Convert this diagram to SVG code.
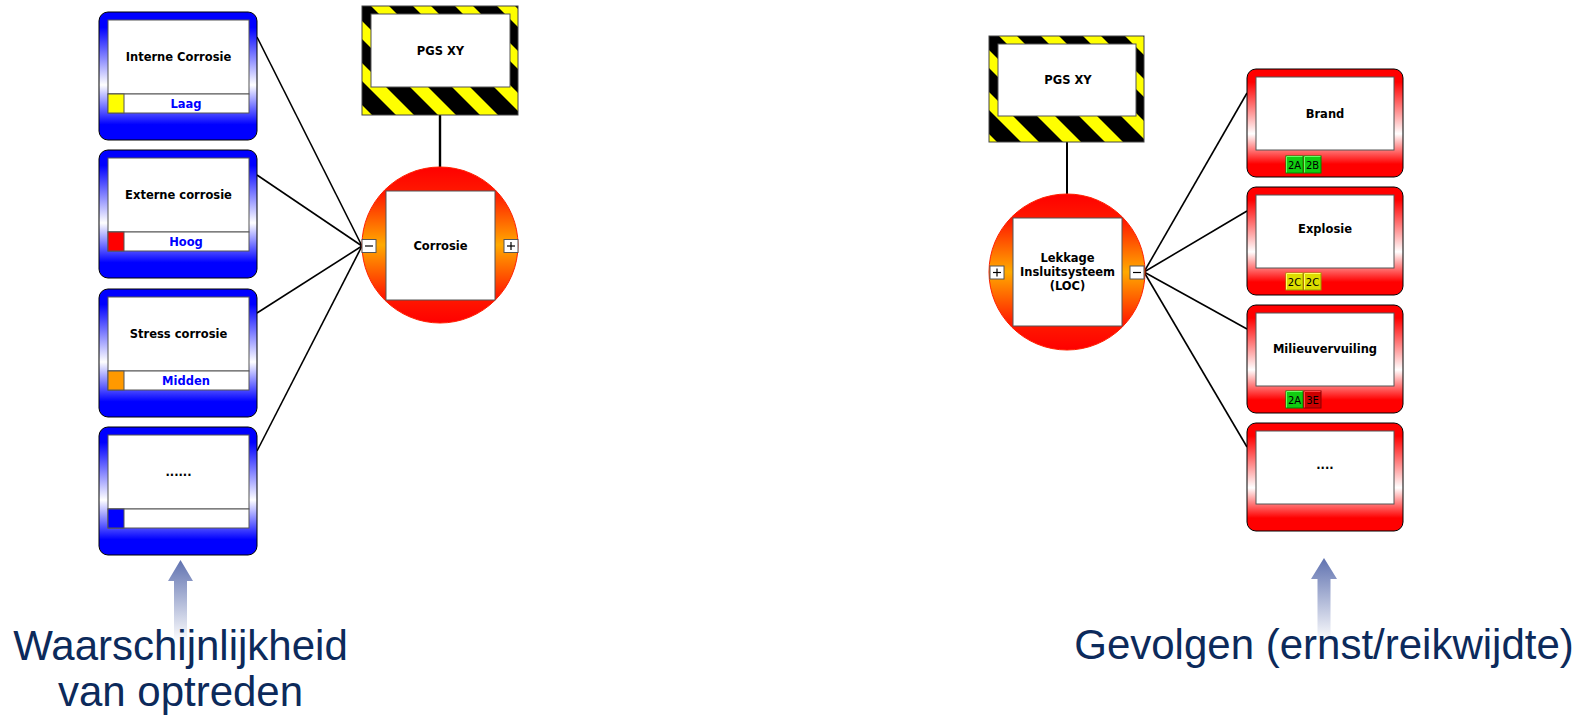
<svg xmlns="http://www.w3.org/2000/svg" width="1583" height="721" viewBox="0 0 1583 721">
  <defs>
    <style>
      .lbl { font-family: "DejaVu Sans", Verdana, sans-serif; font-weight: bold; font-size: 11.5px; fill: #000; text-anchor: middle; }
      .lvl { font-family: "DejaVu Sans", Verdana, sans-serif; font-weight: bold; font-size: 11.5px; fill: #0000ff; text-anchor: middle; }
      .badge-t { font-family: "DejaVu Sans", Verdana, sans-serif; font-size: 10px; fill: #000; text-anchor: middle; }
      .big { font-family: "Liberation Sans", Arial, sans-serif; font-size: 42px; fill: #0c2a5b; text-anchor: middle; }
      .inner { fill: #fff; stroke: #555; stroke-width: 1; }
      .edge { stroke: #000; stroke-width: 1.6; fill: none; }
      .stem { stroke: #000; stroke-width: 2.4; fill: none; }
      .btn { fill: #fff; stroke: #555; stroke-width: 1; }
      .btn-sym { stroke: #000; stroke-width: 1.2; fill: none; }
      .blue-node { fill: url(#gBlue); stroke: #000; stroke-width: 1; }
      .red-node { fill: url(#gRed); stroke: #000; stroke-width: 1; }
      .event { fill: url(#gEvent); stroke: #ff2000; stroke-width: 1; }
    </style>
    <linearGradient id="gBlue" x1="0" y1="0" x2="0" y2="1">
      <stop offset="0" stop-color="#0000ff"/>
      <stop offset="0.12" stop-color="#0000ff"/>
      <stop offset="0.57" stop-color="#ffffff"/>
      <stop offset="0.88" stop-color="#0000ff"/>
      <stop offset="1" stop-color="#0000ff"/>
    </linearGradient>
    <linearGradient id="gRed" x1="0" y1="0" x2="0" y2="1">
      <stop offset="0" stop-color="#ff0000"/>
      <stop offset="0.12" stop-color="#ff0000"/>
      <stop offset="0.6" stop-color="#ffffff"/>
      <stop offset="0.88" stop-color="#ff0000"/>
      <stop offset="1" stop-color="#ff0000"/>
    </linearGradient>
    <linearGradient id="gEvent" x1="0" y1="0" x2="0" y2="1">
      <stop offset="0" stop-color="#ff0000"/>
      <stop offset="0.17" stop-color="#ff1a00"/>
      <stop offset="0.5" stop-color="#ffaa00"/>
      <stop offset="0.83" stop-color="#ff1a00"/>
      <stop offset="1" stop-color="#ff0000"/>
    </linearGradient>
    <linearGradient id="gArrowL" gradientUnits="userSpaceOnUse" x1="0" y1="560" x2="0" y2="642">
      <stop offset="0" stop-color="#6072b0"/>
      <stop offset="1" stop-color="#ffffff"/>
    </linearGradient>
    <linearGradient id="gArrowR" gradientUnits="userSpaceOnUse" x1="0" y1="558" x2="0" y2="642">
      <stop offset="0" stop-color="#6072b0"/>
      <stop offset="1" stop-color="#ffffff"/>
    </linearGradient>
    <!-- diagonal hazard stripes, 42px horizontal period -->
    <pattern id="hazardL" patternUnits="userSpaceOnUse" x="0" y="0" width="42" height="42">
      <rect width="42" height="42" fill="#000"/>
      <polygon points="29,0 47,0 89,42 71,42" fill="#ffff00"/>
      <polygon points="-13,0 5,0 47,42 29,42" fill="#ffff00"/>
      <polygon points="-55,0 -37,0 5,42 -13,42" fill="#ffff00"/>
    </pattern>
    <pattern id="hazardR" patternUnits="userSpaceOnUse" x="0" y="0" width="42" height="42">
      <rect width="42" height="42" fill="#000"/>
      <polygon points="39,0 57,0 99,42 81,42" fill="#ffff00"/>
      <polygon points="-3,0 15,0 57,42 39,42" fill="#ffff00"/>
      <polygon points="-45,0 -27,0 15,42 -3,42" fill="#ffff00"/>
    </pattern>
  </defs>

  <rect width="1583" height="721" fill="#ffffff"/>

  <!-- connectors -->
  <g id="connectors">
    <line class="stem" x1="440" y1="115" x2="440" y2="167"/>
    <line class="edge" x1="257" y1="37" x2="362" y2="246"/>
    <line class="edge" x1="257" y1="175" x2="362" y2="246"/>
    <line class="edge" x1="257" y1="313" x2="362" y2="246"/>
    <line class="edge" x1="257" y1="451" x2="362" y2="246"/>
    <line class="stem" x1="1067" y1="142" x2="1067" y2="194" style="stroke-width:2"/>
    <line class="edge" x1="1144" y1="272" x2="1247" y2="93"/>
    <line class="edge" x1="1144" y1="272" x2="1247" y2="211"/>
    <line class="edge" x1="1144" y1="272" x2="1247" y2="329"/>
    <line class="edge" x1="1144" y1="272" x2="1247" y2="447"/>
  </g>

  <!-- causes (left) -->
  <g id="cause-interne" transform="translate(99,12)">
    <rect class="blue-node" width="158" height="128" rx="9"/>
    <rect class="inner" x="9" y="8" width="141" height="74"/>
    <rect class="inner" x="9" y="82" width="141" height="19"/>
    <rect x="9" y="82" width="16" height="19" fill="#ffff00" stroke="#555"/>
    <text class="lbl" x="79.5" y="49">Interne Corrosie</text>
    <text class="lvl" x="87" y="95.5">Laag</text>
  </g>
  <g id="cause-externe" transform="translate(99,150)">
    <rect class="blue-node" width="158" height="128" rx="9"/>
    <rect class="inner" x="9" y="8" width="141" height="74"/>
    <rect class="inner" x="9" y="82" width="141" height="19"/>
    <rect x="9" y="82" width="16" height="19" fill="#ff0000" stroke="#555"/>
    <text class="lbl" x="79.5" y="49">Externe corrosie</text>
    <text class="lvl" x="87" y="95.5">Hoog</text>
  </g>
  <g id="cause-stress" transform="translate(99,289)">
    <rect class="blue-node" width="158" height="128" rx="9"/>
    <rect class="inner" x="9" y="8" width="141" height="74"/>
    <rect class="inner" x="9" y="82" width="141" height="19"/>
    <rect x="9" y="82" width="16" height="19" fill="#ff9900" stroke="#555"/>
    <text class="lbl" x="79.5" y="49">Stress corrosie</text>
    <text class="lvl" x="87" y="95.5">Midden</text>
  </g>
  <g id="cause-more" transform="translate(99,427)">
    <rect class="blue-node" width="158" height="128" rx="9"/>
    <rect class="inner" x="9" y="8" width="141" height="74"/>
    <rect class="inner" x="9" y="82" width="141" height="19"/>
    <rect x="9" y="82" width="16" height="19" fill="#0000ff" stroke="#555"/>
    <text class="lbl" x="79.5" y="49">......</text>
  </g>

  <!-- left hazard label -->
  <g id="pgs-left">
    <rect x="362" y="6" width="156" height="109" fill="url(#hazardL)" stroke="#444" stroke-width="1"/>
    <rect class="inner" x="371" y="14" width="139" height="73"/>
    <text class="lbl" x="440.5" y="55">PGS XY</text>
  </g>

  <!-- left event -->
  <g id="event-corrosie">
    <circle class="event" cx="440" cy="245" r="78"/>
    <rect class="inner" x="386" y="191" width="109" height="109"/>
    <text class="lbl" x="440.5" y="250">Corrosie</text>
    <rect class="btn" x="362" y="239.5" width="14" height="13"/>
    <line class="btn-sym" x1="365" y1="246" x2="373" y2="246"/>
    <rect class="btn" x="504" y="239.5" width="14" height="13"/>
    <line class="btn-sym" x1="507" y1="246" x2="515" y2="246"/>
    <line class="btn-sym" x1="511" y1="242" x2="511" y2="250"/>
  </g>

  <!-- right hazard label -->
  <g id="pgs-right">
    <rect x="989" y="36" width="155" height="106" fill="url(#hazardR)" stroke="#444" stroke-width="1"/>
    <rect class="inner" x="998" y="44" width="138" height="72"/>
    <text class="lbl" x="1068" y="84">PGS XY</text>
  </g>

  <!-- right event -->
  <g id="event-loc">
    <circle class="event" cx="1067" cy="272" r="78"/>
    <rect class="inner" x="1013" y="218" width="109" height="108"/>
    <text class="lbl" x="1067.5" y="262">Lekkage</text>
    <text class="lbl" x="1067.5" y="276">Insluitsysteem</text>
    <text class="lbl" x="1067.5" y="290">(LOC)</text>
    <rect class="btn" x="990" y="266" width="14" height="13"/>
    <line class="btn-sym" x1="993" y1="272.5" x2="1001" y2="272.5"/>
    <line class="btn-sym" x1="997" y1="268.5" x2="997" y2="276.5"/>
    <rect class="btn" x="1130" y="266" width="14" height="13"/>
    <line class="btn-sym" x1="1133" y1="272.5" x2="1141" y2="272.5"/>
  </g>

  <!-- consequences (right) -->
  <g id="cons-brand" transform="translate(1247,69)">
    <rect class="red-node" width="156" height="108" rx="9"/>
    <rect class="inner" x="9" y="8" width="138" height="73"/>
    <text class="lbl" x="78" y="48.5">Brand</text>
    <rect x="39" y="87" width="17" height="17" fill="#11cc11" stroke="#008800"/>
    <polyline points="39.5,103.5 39.5,87.5 55.5,87.5" fill="none" stroke="#66ff66"/>
    <text class="badge-t" x="47.5" y="99.5">2A</text>
    <rect x="57" y="87" width="17" height="17" fill="#11cc11" stroke="#008800"/>
    <polyline points="57.5,103.5 57.5,87.5 73.5,87.5" fill="none" stroke="#66ff66"/>
    <text class="badge-t" x="65.5" y="99.5">2B</text>
  </g>
  <g id="cons-explosie" transform="translate(1247,187)">
    <rect class="red-node" width="156" height="108" rx="9"/>
    <rect class="inner" x="9" y="8" width="138" height="73"/>
    <text class="lbl" x="78" y="46">Explosie</text>
    <rect x="39" y="86" width="17" height="17" fill="#dddd00" stroke="#999900"/>
    <polyline points="39.5,102.5 39.5,86.5 55.5,86.5" fill="none" stroke="#ffff66"/>
    <text class="badge-t" x="47.5" y="98.5">2C</text>
    <rect x="57" y="86" width="17" height="17" fill="#dddd00" stroke="#999900"/>
    <polyline points="57.5,102.5 57.5,86.5 73.5,86.5" fill="none" stroke="#ffff66"/>
    <text class="badge-t" x="65.5" y="98.5">2C</text>
  </g>
  <g id="cons-milieu" transform="translate(1247,305)">
    <rect class="red-node" width="156" height="108" rx="9"/>
    <rect class="inner" x="9" y="8" width="138" height="73"/>
    <text class="lbl" x="78" y="48">Milieuvervuiling</text>
    <rect x="39" y="86" width="17" height="17" fill="#11cc11" stroke="#008800"/>
    <polyline points="39.5,102.5 39.5,86.5 55.5,86.5" fill="none" stroke="#66ff66"/>
    <text class="badge-t" x="47.5" y="98.5">2A</text>
    <rect x="57" y="86" width="17" height="17" fill="#cc0000" stroke="#880000"/>
    <polyline points="57.5,102.5 57.5,86.5 73.5,86.5" fill="none" stroke="#ff4444"/>
    <text class="badge-t" x="65.5" y="98.5">3E</text>
  </g>
  <g id="cons-more" transform="translate(1247,423)">
    <rect class="red-node" width="156" height="108" rx="9"/>
    <rect class="inner" x="9" y="8" width="138" height="73"/>
    <text class="lbl" x="78" y="46">....</text>
  </g>

  <!-- axis arrows and captions -->
  <g id="axis-left">
    <polygon points="180.5,560 193,581 187,581 187,640 174,640 174,581 168,581" fill="url(#gArrowL)"/>
    <text class="big" x="180.5" y="660">Waarschijnlijkheid</text>
    <text class="big" x="180.5" y="706">van optreden</text>
  </g>
  <g id="axis-right">
    <polygon points="1324,558 1337,579 1330.5,579 1330.5,640 1317.5,640 1317.5,579 1311,579" fill="url(#gArrowR)"/>
    <text class="big" x="1324" y="659">Gevolgen (ernst/reikwijdte)</text>
  </g>
</svg>
